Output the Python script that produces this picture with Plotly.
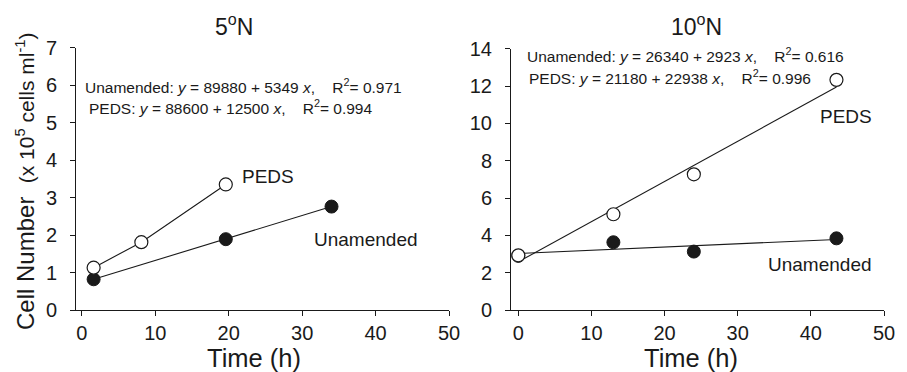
import plotly.graph_objects as go

# ---------------- data ----------------
# 5°N panel
n5_peds_t = [1.6, 8.1, 19.6]
n5_peds_y = [1.13, 1.81, 3.35]
n5_unam_t = [1.6, 19.6, 34.0]
n5_unam_y = [0.82, 1.89, 2.76]

# 10°N panel
n10_peds_t = [0.0, 13.0, 24.0, 43.5]
n10_peds_y = [2.93, 5.13, 7.27, 12.33]
n10_unam_t = [0.0, 13.0, 24.0, 43.5]
n10_unam_y = [2.90, 3.63, 3.13, 3.84]
# fitted regression lines (end points)
n10_fit_t = [0.0, 43.5]
n10_peds_fit = [2.58, 11.95]
n10_unam_fit = [3.03, 3.78]

x_ticks = [0, 10, 20, 30, 40, 50]
y_ticks_5 = [0, 1, 2, 3, 4, 5, 6, 7]
y_ticks_10 = [0, 2, 4, 6, 8, 10, 12, 14]

eq5 = ["Unamended: <i>y</i> = 89880 + 5349 <i>x</i>,&nbsp;&nbsp;&nbsp;&nbsp;R<sup>2</sup>= 0.971",
       "PEDS: <i>y</i> = 88600 + 12500 <i>x</i>,&nbsp;&nbsp;&nbsp;&nbsp;R<sup>2</sup>= 0.994"]
eq10 = ["Unamended: <i>y</i> = 26340 + 2923 <i>x</i>,&nbsp;&nbsp;&nbsp;&nbsp;R<sup>2</sup>= 0.616",
        "PEDS: <i>y</i> = 21180 + 22938 <i>x</i>,&nbsp;&nbsp;&nbsp;&nbsp;R<sup>2</sup>= 0.996"]

# ---------------- figure ----------------
W, H = 907, 372
OFF = 8  # the page body margin shifts the figure by this many pixels
FONT = "Liberation Sans, Arial, Helvetica, sans-serif"
INK = "#1a1a1a"


def px(x):
    return (x - OFF) / W


def py(y):
    return (H - (y - OFF)) / H


fig = go.Figure()

filled = dict(size=13, color=INK, line=dict(color=INK, width=1))
opened = dict(size=13, color="white", line=dict(color=INK, width=1.2))

# left panel
fig.add_trace(go.Scatter(x=n5_unam_t, y=n5_unam_y, mode="lines+markers",
                         line=dict(color=INK, width=1.1), marker=filled,
                         xaxis="x", yaxis="y", showlegend=False))
fig.add_trace(go.Scatter(x=n5_peds_t, y=n5_peds_y, mode="lines+markers",
                         line=dict(color=INK, width=1.1), marker=opened,
                         xaxis="x", yaxis="y", showlegend=False))

# right panel
fig.add_trace(go.Scatter(x=n10_fit_t, y=n10_unam_fit, mode="lines",
                         line=dict(color=INK, width=1.1),
                         xaxis="x2", yaxis="y2", showlegend=False))
fig.add_trace(go.Scatter(x=n10_fit_t, y=n10_peds_fit, mode="lines",
                         line=dict(color=INK, width=1.1),
                         xaxis="x2", yaxis="y2", showlegend=False))
fig.add_trace(go.Scatter(x=n10_unam_t, y=n10_unam_y, mode="markers",
                         marker=filled, xaxis="x2", yaxis="y2", showlegend=False))
fig.add_trace(go.Scatter(x=n10_peds_t, y=n10_peds_y, mode="markers",
                         marker=opened, xaxis="x2", yaxis="y2", showlegend=False))

axis_common = dict(showline=True, linecolor=INK, linewidth=1, ticks="outside",
                   ticklen=5, tickwidth=1, tickcolor=INK, showgrid=False,
                   zeroline=False, automargin=False,
                   tickfont=dict(size=20, color=INK, family=FONT))

fig.update_layout(
    width=W, height=H,
    margin=dict(l=0, r=0, t=0, b=0, pad=0, autoexpand=False),
    paper_bgcolor="white", plot_bgcolor="white",
    font=dict(family=FONT, color=INK),
    xaxis=dict(domain=[px(76), px(449)], range=[-0.8, 50], tickvals=x_ticks,
               anchor="y", **axis_common),
    yaxis=dict(domain=[py(310), py(47.7)], range=[0, 7], tickvals=y_ticks_5,
               anchor="x", ticklabelstandoff=9, **axis_common),
    xaxis2=dict(domain=[px(511), px(884)], range=[-1.0, 50], tickvals=x_ticks,
                anchor="y2", **axis_common),
    yaxis2=dict(domain=[py(310), py(48.7)], range=[0, 14], tickvals=y_ticks_10,
                anchor="x2", ticklabelstandoff=9, **axis_common),
)


def note(text, x, y, size, xanchor="left", yanchor="middle", angle=0):
    fig.add_annotation(text=text, x=px(x), y=py(y), xref="paper", yref="paper",
                       xanchor=xanchor, yanchor=yanchor, showarrow=False,
                       textangle=angle, font=dict(size=size, color=INK, family=FONT))


# titles
note("5<sup>o</sup>N", 234, 25, 23, xanchor="center")
note("10<sup>o</sup>N", 696, 25, 23, xanchor="center")
# axis titles
note("Time (h)", 254.5, 358, 25.5, xanchor="center")
note("Time (h)", 690.5, 358, 25.5, xanchor="center")
note("Cell Number&nbsp;&nbsp;<span style='font-size:21px'>(x 10<sup>5</sup> cells ml<sup>-1</sup>)</span>",
     25, 182, 24, xanchor="center", angle=-90)
# equations
note(eq5[0], 83, 86, 15.5)
note(eq5[1], 87, 107, 15.5)
note(eq10[0], 525, 55, 15.5)
note(eq10[1], 527, 77, 15.5)
# series labels
note("PEDS", 240, 176, 19)
note("Unamended", 312, 239, 19)
note("PEDS", 818, 117, 19)
note("Unamended", 766, 264, 19)

fig.write_html("out.html")
